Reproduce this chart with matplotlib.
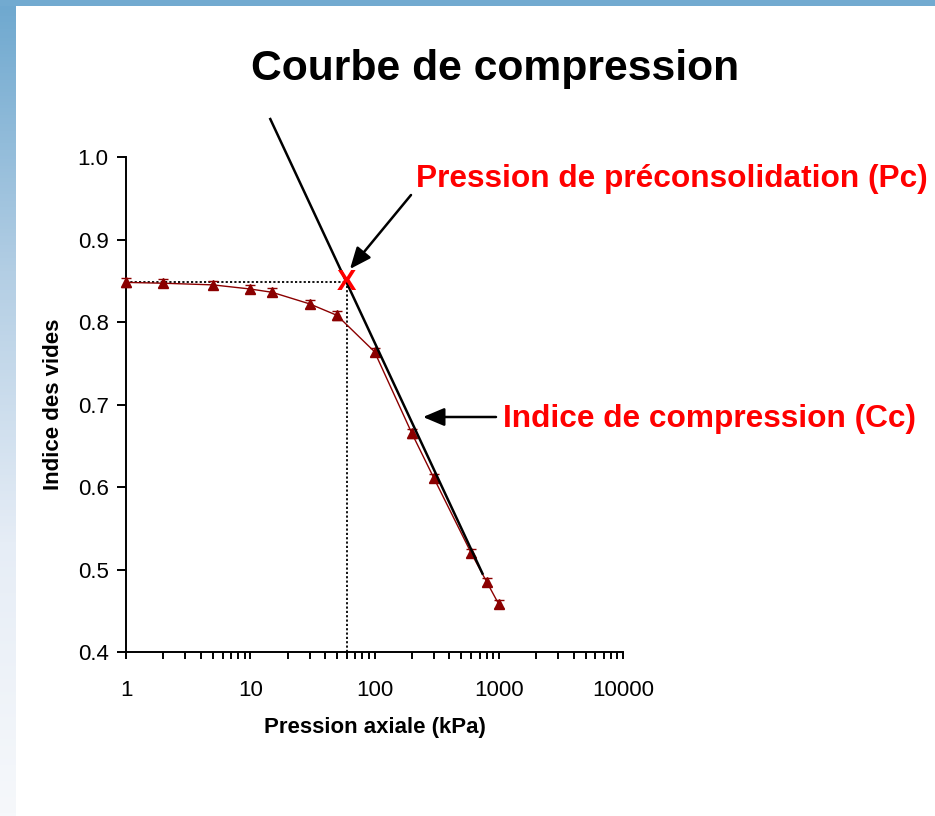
#!/usr/bin/env python3
# -*- coding: utf-8 -*-
"""Courbe de compression (oedometre) - indice des vides vs pression axiale."""

import numpy as np
import matplotlib
matplotlib.use("Agg")
import matplotlib.pyplot as plt
from matplotlib.colors import LinearSegmentedColormap
from matplotlib.ticker import FixedLocator, FixedFormatter, NullFormatter, LogLocator

plt.rcParams["font.family"] = ["Liberation Sans", "DejaVu Sans"]

# ----------------------------
# Data
# ----------------------------
pression = [1, 2, 5, 10, 15, 30, 50, 100, 200, 300, 600, 800, 1000]
indice_vides = [0.848, 0.847, 0.845, 0.840, 0.836, 0.822, 0.808,
                0.764, 0.665, 0.611, 0.520, 0.485, 0.458]
erreur = [0.005] * len(pression)

# tangent line (compression index) endpoints
tangente_x = [14.5, 740]
tangente_y = [1.046, 0.495]

pc_x, pc_y = 60, 0.848

y_ticks = [0.4, 0.5, 0.6, 0.7, 0.8, 0.9, 1.0]
x_ticks = [1, 10, 100, 1000, 10000]
x_labels = ["1", "10", "100", "1000", "10000"]

# ----------------------------
# Figure
# ----------------------------
W, H = 935, 816
fig = plt.figure(figsize=(W / 100, H / 100), dpi=100)
fig.patch.set_facecolor("white")

# blue slide border: left gradient strip + top strip
bg = fig.add_axes([0, 0, 15 / W, 1])
cmap = LinearSegmentedColormap.from_list("bord", ["#6ea8cf", "#b3cee4", "#e6edf6", "#f6f8fb"])
bg.imshow(np.linspace(0, 1, 256).reshape(-1, 1), aspect="auto", cmap=cmap,
          extent=[0, 1, 0, 1], origin="upper")
bg.axis("off")
top = fig.add_axes([0, 1 - 6 / H, 1, 6 / H])
top.set_facecolor("#72aad0")
top.set_xticks([]); top.set_yticks([])
for s in top.spines.values():
    s.set_visible(False)

ax = fig.add_axes([126 / W, 1 - 652 / H, (623 - 126) / W, (652 - 157) / H])
ax.set_xscale("log")
ax.set_xlim(1, 10000)
ax.set_ylim(0.4, 1.0)

# data curve
ax.errorbar(pression, indice_vides, yerr=erreur, color="#8b0000", lw=1.0,
            marker="^", ms=6.5, mfc="#8b0000", mec="#8b0000",
            ecolor="#8b0000", elinewidth=1.0, capsize=3.5, clip_on=False, zorder=4)

# tangent (Cc)
ax.plot(tangente_x, tangente_y, color="black", lw=1.8, clip_on=False, zorder=5)

# dotted construction lines
ax.plot([pression[0], pc_x], [pc_y, pc_y], color="black", lw=1.3, ls=(0, (1.2, 1.2)), zorder=3)
ax.plot([pc_x, pc_x], [0.4, pc_y], color="black", lw=1.3, ls=(0, (1.2, 1.2)), zorder=3)

# Pc marker
ax.text(pc_x, pc_y, "X", color="#ff0000", fontsize=21, fontweight="bold",
        ha="center", va="center", zorder=6)

# annotations
fig_px = lambda x, y: (x / W, 1 - y / H)
arrow = dict(arrowstyle="-|>,head_length=1.3,head_width=0.55",
             color="black", lw=1.8, shrinkA=0, shrinkB=0)
ax.annotate("", xy=fig_px(350, 269), xycoords="figure fraction",
            xytext=fig_px(411, 195), textcoords="figure fraction", arrowprops=arrow)
ax.annotate("", xy=fig_px(423, 417), xycoords="figure fraction",
            xytext=fig_px(496, 417), textcoords="figure fraction", arrowprops=arrow)
fig.text(416 / W, 1 - 179 / H, "Pression de préconsolidation (Pc)", color="#ff0000",
         fontsize=22.8, fontweight="bold", ha="left", va="center")
fig.text(503 / W, 1 - 419 / H, "Indice de compression (Cc)", color="#ff0000",
         fontsize=22.8, fontweight="bold", ha="left", va="center")

# title
fig.text(495 / W, 1 - 69 / H, "Courbe de compression", fontsize=30.7,
         fontweight="bold", ha="center", va="center")

# axes styling
for s in ["top", "right"]:
    ax.spines[s].set_visible(False)
ax.spines["left"].set_linewidth(1.4)
ax.spines["bottom"].set_linewidth(1.4)
ax.yaxis.set_major_locator(FixedLocator(y_ticks))
ax.yaxis.set_major_formatter(FixedFormatter([f"{v:.1f}" for v in y_ticks]))
ax.xaxis.set_major_locator(FixedLocator(x_ticks))
ax.xaxis.set_major_formatter(FixedFormatter(x_labels))
ax.xaxis.set_minor_locator(LogLocator(base=10, subs=np.arange(2, 10)))
ax.xaxis.set_minor_formatter(NullFormatter())
ax.tick_params(axis="y", which="major", direction="out", length=6.5, width=1.4,
               labelsize=16, pad=6)
ax.tick_params(axis="x", which="major", direction="out", length=5, width=1.4,
               labelsize=16, pad=15)
ax.tick_params(axis="x", which="minor", direction="out", length=5, width=1.4)

ax.set_xlabel("Pression axiale (kPa)", fontsize=16, fontweight="bold", labelpad=12)
ax.set_ylabel("Indice des vides", fontsize=16, fontweight="bold", labelpad=10)

fig.savefig("out.png", dpi=100)
